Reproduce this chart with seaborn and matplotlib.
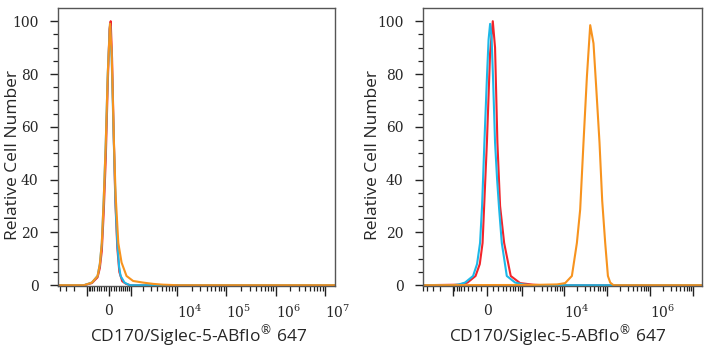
import numpy as np
import pandas as pd
import matplotlib
matplotlib.use('Agg')
import matplotlib.pyplot as plt
import seaborn as sns

# fluorescence intensity / relative cell number
# left panel
left_red_x = [-4400, -1185, -721, -453, -355, -273, -194, -115, -38, 30, 77, 130, 194, 260, 343, 430, 560, 750, 1000, 2e7]
left_red_y = [0, 0, 0.8, 3, 6.5, 13, 28, 48, 76, 97, 100, 86, 58, 32, 14, 5, 1.5, 0.5, 0, 0]
left_blue_x = [-4400, -1185, -721, -453, -355, -273, -194, -115, -38, 50, 115, 194, 273, 343, 420, 484, 671, 936, 2e7]
left_blue_y = [0, 0, 1, 3.5, 8, 16, 33, 54, 80, 99, 86, 56, 30, 16, 7, 3.5, 1, 0, 0]
left_orange_x = [-4400, -1185, -721, -453, -355, -273, -194, -115, -38, 50, 115, 205, 273, 385, 529, 773,
                 1167, 1975, 3260, 5210, 10500, 2e7]
left_orange_y = [0, 0, 1, 3.5, 8, 16, 33, 54, 80, 99, 88, 54, 34, 16, 8.6, 3.5, 1.6, 1.0, 0.5, 0.2, 0, 0]

# right panel
right_red_x = [-5000, -692, -405, -213, -130, -79, -3, 53, 101, 143, 189, 245, 340, 530, 923, 1890, 3090, 2e7]
right_red_y = [0, 0.2, 1, 3.5, 8, 16, 54, 88, 100, 90, 54, 30, 16, 3.5, 0.8, 0.2, 0, 0]
right_blue_x = [-5000, -978, -692, -478, -267, -183, -125, -88, -47, 0, 26, 53, 79, 106, 143, 183, 224, 283,
                410, 692, 1095, 1797, 2e7]
right_blue_y = [0, 0, 0.3, 1, 3.5, 8, 16, 30, 54, 80, 93, 99, 94, 78, 54, 40, 29, 16, 3.5, 1, 0.3, 0, 0]
right_orange_x = [-5000, 1890, 6890, 10590, 15180, 19830, 23660, 28240, 33890, 40460, 48230, 55740, 66530,
                  76830, 90220, 104300, 118000, 140700, 2e7]
right_orange_y = [0, 0.1, 0.3, 0.8, 3.5, 16, 28.7, 54, 79, 98.5, 91.6, 75, 54, 32, 16, 3.5, 1, 0, 0]

samples = ['isotype', 'unstained', 'stained']
colors = {'isotype': '#f2252b', 'unstained': '#1db8e8', 'stained': '#f7931e'}

xlabel = 'CD170/Siglec-5-ABflo$^{\u00ae}$ 647'
ylabel = 'Relative Cell Number'


def make_df(xs, ys):
    parts = []
    for s, x, y in zip(samples, xs, ys):
        parts.append(pd.DataFrame({'intensity': x, 'count': y, 'sample': s}))
    return pd.concat(parts, ignore_index=True)


left_df = make_df([left_red_x, left_blue_x, left_orange_x], [left_red_y, left_blue_y, left_orange_y])
right_df = make_df([right_red_x, right_blue_x, right_orange_x], [right_red_y, right_blue_y, right_orange_y])

sns.set_style('ticks')
plt.rcParams['font.family'] = ['Open Sans', 'DejaVu Sans']
plt.rcParams['mathtext.fontset'] = 'dejavuserif'

fig = plt.figure(figsize=(7.1, 3.5), dpi=100)
ax1 = fig.add_axes([58 / 710, 64 / 350, 277 / 710, 278 / 350])
ax2 = fig.add_axes([423 / 710, 64 / 350, 279 / 710, 278 / 350])


def style_axis(ax, df, c, xlim, labeled, xlab_x, ylab_x):
    sns.lineplot(data=df, x='intensity', y='count', hue='sample', hue_order=samples,
                 palette=colors, estimator=None, sort=False, legend=False, lw=1.5, ax=ax)
    # biexponential-like display (arcsinh)
    ax.set_xscale('function', functions=(lambda v: np.arcsinh(np.asarray(v) / c),
                                         lambda v: c * np.sinh(np.asarray(v))))

    majors = [-1000, 0, 1000, 1e4, 1e5, 1e6, 1e7]
    labels = []
    for m in majors:
        if m == 0:
            labels.append('0')
        elif m in labeled:
            labels.append('$10^{%d}$' % int(np.log10(m)))
        else:
            labels.append('')
    minors = [v * 100 for v in range(-9, 10) if v != 0]
    for dec in [1e3, 1e4, 1e5, 1e6]:
        minors += [k * dec for k in range(2, 10)]
    minors += [-k * 1e3 for k in range(2, 10)]
    ax.set_xticks(majors)
    ax.set_xticklabels(labels)
    ax.set_xticks(minors, minor=True)
    ax.set_yticks([0, 20, 40, 60, 80, 100])
    ax.set_yticks(np.arange(0, 105, 5), minor=True)
    # limits after ticks, set_xticks widens the view
    ax.set_xlim(*xlim)
    ax.set_ylim(-0.3, 105)

    ax.tick_params(axis='both', which='major', length=7, width=1, color='#222222')
    ax.tick_params(axis='both', which='minor', length=3.5, width=0.9, color='#222222')
    ax.tick_params(axis='x', which='major', pad=6)
    ax.tick_params(axis='y', which='major', length=6, pad=8)
    for lab in ax.get_xticklabels() + ax.get_yticklabels():
        lab.set_family('DejaVu Serif')
        lab.set_fontsize(10)
    for lab, m in zip(ax.get_xticklabels(), majors):
        if m in labeled:
            lab.set_horizontalalignment('left')
    for sp in ax.spines.values():
        sp.set_visible(True)
        sp.set_color('#555555')
        sp.set_linewidth(1)

    ax.set_xlabel(xlabel, fontsize=12.5)
    ax.set_ylabel(ylabel, fontsize=12.5)
    ax.xaxis.set_label_coords(xlab_x, -0.135)
    ax.yaxis.set_label_coords(ylab_x, 0.47)


style_axis(ax1, left_df, 833, (-4400, 1.6e7), [1e4, 1e5, 1e6, 1e7], 0.509, -0.135)
style_axis(ax2, right_df, 325, (-5000, 1.6e7), [1e4, 1e6], 0.482, -0.15)

fig.savefig('out.png', dpi=100)
